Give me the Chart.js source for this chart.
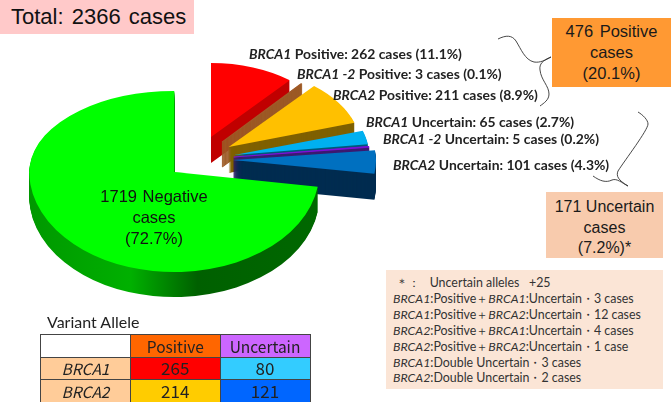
<!DOCTYPE html>
<html><head><meta charset="utf-8">
<script src="https://cdn.jsdelivr.net/npm/chart.js@4"></script>
<style>
html,body{margin:0;padding:0;background:#fff;width:671px;height:402px;overflow:hidden}
#wrap{position:relative;width:671px;height:402px}
canvas{position:absolute;left:0;top:0}
.box{position:absolute;text-align:center;font-family:"Liberation Sans",Arial,sans-serif;color:#1a1a1a;box-sizing:border-box}
.lab{position:absolute;font-family:Lato,sans-serif;font-weight:700;font-size:13.9px;color:#222;white-space:pre;line-height:14px}
.lab i,.note i{font-style:italic}
.note{position:absolute;left:386px;top:270px;width:277px;height:119px;background:#fbe5d6;font-family:Lato,sans-serif;font-size:12.4px;color:#333;line-height:15.9px;box-sizing:border-box;padding:5px 0 0 7px;white-space:pre}
table{position:absolute;left:40px;top:334px;border-collapse:collapse;font-family:"Noto Sans CJK JP","Liberation Sans",sans-serif;color:#222;table-layout:fixed}
td{border:1.5px solid #444;text-align:center;padding:0;height:22.5px;font-size:15.5px;line-height:18px;box-sizing:border-box}
svg{position:absolute;left:0;top:0}
</style></head><body>
<div id="wrap">
<canvas id="c" width="671" height="402"></canvas>
<svg width="671" height="402" fill="none" stroke="#333" stroke-width="0.9">
<path d="M498 39C506 35 512 35 516 41C521 49 525 60 534 62C540 63 546 60 551 57C543 60 539 64 540 70C541 80 549 86 549 94C549 100 544 103 540 106"/>
<path d="M638 112C643 115 648 120 648 124C648 130 625 160 618 171C616 176 618 180 628 186C622 183 617 178 612 180C606 183 600 181 593 176"/>
</svg>
<div class="box" style="left:0;top:0;width:194px;height:34px;background:#ffc9c9;font-size:22px;line-height:34px;word-spacing:2px;color:#111;text-align:left;padding-left:11px">Total: 2366 cases</div>
<div class="box" style="left:94px;top:186px;width:120px;font-size:16.5px;line-height:21px;word-spacing:1px;color:#111">1719 Negative<br>cases<br>(72.7%)</div>
<div class="box" style="left:552px;top:18px;width:119px;height:69px;background:#ff9933;font-size:16.5px;line-height:21px;padding-top:3px;word-spacing:2px">476 Positive<br>cases<br>(20.1%)</div>
<div class="box" style="left:546px;top:192px;width:117px;height:66px;background:#f8cbad;font-size:16px;line-height:20.5px;padding-top:5px">171 Uncertain<br>cases<br>(7.2%)*</div>
<div id="labels"></div>
<div class="note" id="note"></div>
<div class="box" style="left:47px;top:312px;font-size:16px;line-height:20px;text-align:left;font-family:Lato,sans-serif;color:#222">Variant Allele</div>
<table id="tbl"></table>
</div>
<script>
// ---- data ----
const sliceNames = ['BRCA1 Positive','BRCA1-2 Positive','BRCA2 Positive','BRCA1 Uncertain','BRCA1-2 Uncertain','BRCA2 Uncertain','Negative'];
const sliceCases = [262,3,211,65,5,101,1719];
const slicePercents = ['11.1','0.1','8.9','2.7','0.2','4.3','72.7'];
const tableRows = ['BRCA1','BRCA2'];
const tableCols = ['Positive','Uncertain'];
const positiveAlleles = [265,214];
const uncertainAlleles = [80,121];
const noteLines = [
 ' ＊：   Uncertain alleles   +25',
 '<i>BRCA1</i>:Positive＋<i>BRCA1</i>:Uncertain・3 cases',
 '<i>BRCA1</i>:Positive＋<i>BRCA2</i>:Uncertain・12 cases',
 '<i>BRCA2</i>:Positive＋<i>BRCA1</i>:Uncertain・4 cases',
 '<i>BRCA2</i>:Positive＋<i>BRCA2</i>:Uncertain・1 case',
 '<i>BRCA1</i>:Double Uncertain・3 cases',
 '<i>BRCA2</i>:Double Uncertain・2 cases'];

// ---- styling ----
const topColors  = ['#ff0000','#a05a28','#ffc000','#00b0f0','#7a10d8','#0070c0','#00ff00'];
const wallColors = ['#c00000','#9c5a26','#7f6000','#00587a','#3c1a70','#002c50',null];
const thinBorder = [0,1.6,0,0,1.4,0,0];
const HUB = {x:197,y:160};
const explode = [41,39,38,38,37,36,30];
const rxs   = [123,123,132,135,136,143,145];
const ryTop = [74,76,80,80,80,80,81];
const ryBot = [74,76,80,80,80,93,100];
const depth = [26,25,26,26,26,26,25];
const labelPos = [[249,47],[297,67],[333,88],[366,115],[383,132],[393,158]];
const labelHtml = [
 '<i>BRCA1</i> Positive: 262 cases (11.1%)',
 '<i>BRCA1 -2</i> Positive: 3 cases (0.1%)',
 '<i>BRCA2</i> Positive: 211 cases (8.9%)',
 '<i>BRCA1</i> Uncertain: 65 cases (2.7%)',
 '<i>BRCA1 -2</i> Uncertain: 5 cases (0.2%)',
 '<i>BRCA2</i> Uncertain: 101 cases (4.3%)'];

document.getElementById('labels').innerHTML = labelHtml.map((h,i)=>
 `<div class="lab" style="left:${labelPos[i][0]}px;top:${labelPos[i][1]}px">${h}</div>`).join('');
document.getElementById('note').innerHTML = noteLines.join('\n');
const colW=[90,89.5,90];
document.getElementById('tbl').innerHTML =
 `<colgroup>${colW.map(w=>`<col style="width:${w}px">`).join('')}</colgroup>`+
 `<tr><td style="background:#fff"></td><td style="background:#ff6600">${tableCols[0]}</td><td style="background:#cc66ff">${tableCols[1]}</td></tr>`+
 tableRows.map((r,i)=>`<tr><td style="background:#ffcc99;font-style:italic">${r}</td>`+
   `<td style="background:${i?'#ffcc00':'#ff0000'};font-size:17px">${positiveAlleles[i]}</td>`+
   `<td style="background:${i?'#0066ff':'#33ccff'};font-size:17px">${uncertainAlleles[i]}</td></tr>`).join('');

// Projects each library-computed arc into the tilted, exploded 3D look.
const pie3d = {
 id:'pie3d',
 beforeDatasetDraw(chart,args){
  const ctx = chart.ctx, meta = args.meta;
  meta.data.forEach((arc,i)=>{
    const R = arc.outerRadius, mid = (arc.startAngle+arc.endAngle)/2;
    const ax = HUB.x + Math.cos(mid)*explode[i];
    const ay = Math.round(HUB.y + Math.sin(mid)*explode[i]*0.6);
    const paint = (dy,color)=>{
      const saved = arc.options;
      arc.options = Object.assign({},saved,{backgroundColor:color,borderWidth:thinBorder[i],borderColor:color,borderAlign:'center'});
      [[ryTop[i],-2000,ay+dy+0.5],[ryBot[i],ay+dy,2000]].forEach(([ry,y0,y1])=>{
        ctx.save();
        ctx.beginPath(); ctx.rect(0,y0,671,y1-y0); ctx.clip();
        ctx.translate(ax,ay+dy);
        ctx.scale(rxs[i]/R,ry/R);
        ctx.translate(-arc.x,-arc.y);
        arc.draw(ctx);
        ctx.restore();
      });
      arc.options = saved;
    };
    let wall = wallColors[i];
    if(!wall){
      wall = ctx.createLinearGradient(arc.x-R,0,arc.x+R,0);
      wall.addColorStop(0,'#009800');
      wall.addColorStop(0.35,'#00b000');
      wall.addColorStop(0.58,'#006000');
      wall.addColorStop(1,'#006800');
    }
    for(let d=depth[i];d>=1;d--) paint(d,wall);
    paint(0,topColors[i]);
  });
  return false;
 }
};

new Chart(document.getElementById('c'),{
 type:'pie',
 data:{labels:sliceNames,datasets:[{data:sliceCases,backgroundColor:topColors,borderWidth:0}]},
 options:{responsive:false,animation:false,radius:145,
  layout:{padding:0},
  plugins:{legend:{display:false},tooltip:{enabled:false}}},
 plugins:[pie3d]
});
</script>
</body></html>
